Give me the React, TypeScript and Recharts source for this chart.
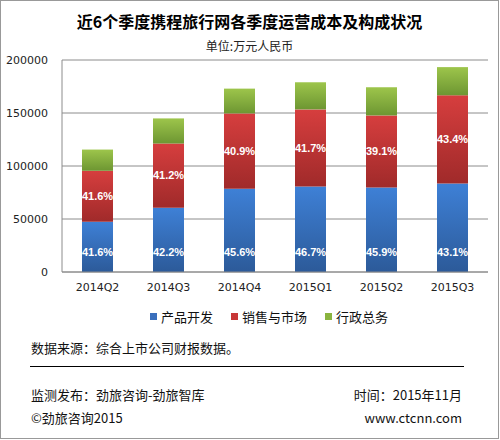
import { BarChart, Bar, XAxis, YAxis, CartesianGrid, Legend, LabelList } from 'recharts';

const quarters = ['2014Q2', '2014Q3', '2014Q4', '2015Q1', '2015Q2', '2015Q3'];
const productDev = [47400, 60700, 78500, 80600, 79700, 83500];
const salesMarketing = [48100, 60500, 71100, 72800, 68000, 83200];
const generalAdmin = [20000, 23700, 23400, 25600, 26600, 26600];
const productPct = ['41.6%', '42.2%', '45.6%', '46.7%', '45.9%', '43.1%'];
const salesPct = ['41.6%', '41.2%', '40.9%', '41.7%', '39.1%', '43.4%'];
const yTicks = [0, 50000, 100000, 150000, 200000];

const seriesNames = ['产品开发', '销售与市场', '行政总务'];
const legendColors = ['#3a6fbc', '#c83737', '#8ab43f'];

const data = quarters.map((q, i) => ({
  quarter: q,
  product: productDev[i],
  sales: salesMarketing[i],
  admin: generalAdmin[i],
  productPct: productPct[i],
  salesPct: salesPct[i],
}));

const cjk = '"Noto Sans CJK SC", "Noto Sans", sans-serif';
const tickStyle = { fontSize: 11, fill: '#222', fontFamily: '"DejaVu Sans", sans-serif' };
const pctStyle = { fill: '#fff', fontSize: 11, fontWeight: 'bold', fontFamily: '"Liberation Sans", Arial, sans-serif' };

const LegendBox = () => (
  <div style={{ display: 'flex', alignItems: 'center', fontFamily: cjk, fontSize: 13, color: '#111' }}>
    {seriesNames.map((name, i) => (
      <span key={name} style={{ display: 'flex', alignItems: 'center', marginRight: 18 }}>
        <span style={{ width: 7, height: 7, background: legendColors[i], marginRight: 4 }} />
        {name}
      </span>
    ))}
  </div>
);

export default function App() {
  return (
    <div
      style={{
        position: 'absolute',
        left: 0,
        top: 0,
        width: 499,
        height: 439,
        border: '1px solid #999',
        boxSizing: 'border-box',
        background: '#fff',
        fontFamily: cjk,
      }}
    >
      <div style={{ position: 'absolute', top: 8, width: '100%', textAlign: 'center', fontSize: 16, fontWeight: 'bold', color: '#000' }}>
        近6个季度携程旅行网各季度运营成本及构成状况
      </div>
      <div style={{ position: 'absolute', top: 36, width: '100%', textAlign: 'center', fontSize: 12, color: '#222' }}>
        单位:万元人民币
      </div>
      <div style={{ position: 'absolute', left: -1, top: -1 }}>
        <BarChart width={500} height={300} data={data} margin={{ top: 60, right: 12, left: 0, bottom: 0 }}>
          <defs>
            <linearGradient id="gBlue" x1="0" y1="0" x2="0" y2="1">
              <stop offset="0%" stopColor="#3e80d6" />
              <stop offset="100%" stopColor="#2c5a99" />
            </linearGradient>
            <linearGradient id="gRed" x1="0" y1="0" x2="0" y2="1">
              <stop offset="0%" stopColor="#d63e3e" />
              <stop offset="100%" stopColor="#a02a2a" />
            </linearGradient>
            <linearGradient id="gGreen" x1="0" y1="0" x2="0" y2="1">
              <stop offset="0%" stopColor="#9dc54b" />
              <stop offset="100%" stopColor="#6d9632" />
            </linearGradient>
          </defs>
          <CartesianGrid stroke="#8c8c8c" vertical={false} />
          <XAxis
            dataKey="quarter"
            height={28}
            tick={tickStyle}
            tickLine={false}
            tickMargin={5}
            axisLine={{ stroke: '#8c8c8c' }}
          />
          <YAxis
            domain={[0, 200000]}
            ticks={yTicks}
            width={62}
            tick={tickStyle}
            tickLine={false}
            tickMargin={8}
            axisLine={{ stroke: '#8c8c8c' }}
          />
          <YAxis yAxisId="frame" orientation="right" width={0} tick={false} tickLine={false} axisLine={{ stroke: '#8c8c8c' }} />
          <Legend verticalAlign="middle" content={<LegendBox />} wrapperStyle={{ top: 307, left: 150, width: 'auto' }} />
          <Bar dataKey="product" name={seriesNames[0]} stackId="a" barSize={31} fill="url(#gBlue)" isAnimationActive={false}>
            <LabelList dataKey="productPct" position="insideBottom" offset={16} style={pctStyle} />
          </Bar>
          <Bar dataKey="sales" name={seriesNames[1]} stackId="a" barSize={31} fill="url(#gRed)" isAnimationActive={false}>
            <LabelList dataKey="salesPct" position="center" style={pctStyle} />
          </Bar>
          <Bar dataKey="admin" name={seriesNames[2]} stackId="a" barSize={31} fill="url(#gGreen)" isAnimationActive={false} />
        </BarChart>
      </div>
      <div style={{ position: 'absolute', left: 30, top: 337, fontSize: 13, color: '#111' }}>
        数据来源：综合上市公司财报数据。
      </div>
      <div style={{ position: 'absolute', left: 29, top: 365, width: 434, height: 0, borderTop: '1px solid #000' }} />
      <div style={{ position: 'absolute', left: 30, top: 384, fontSize: 13, color: '#111' }}>
        监测发布：劲旅咨询-劲旅智库
      </div>
      <div style={{ position: 'absolute', right: 36, top: 384, fontSize: 13, color: '#111' }}>
        时间：2015年11月
      </div>
      <div style={{ position: 'absolute', left: 30, top: 407, fontSize: 13, color: '#111' }}>
        ©劲旅咨询2015
      </div>
      <div style={{ position: 'absolute', right: 36, top: 407, fontSize: 13, color: '#111' }}>
        www.ctcnn.com
      </div>
    </div>
  );
}
